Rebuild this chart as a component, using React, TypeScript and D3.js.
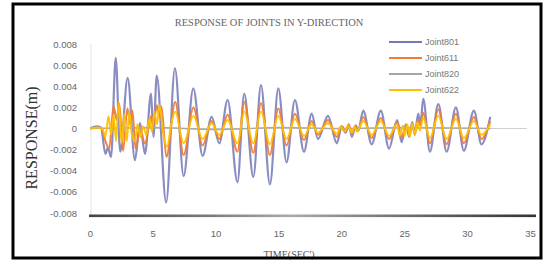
import React, { useEffect, useRef } from 'react';
import * as d3 from 'd3';

// [time (sec), response (m)] — key points
const joint801: [number, number][] = [
  [0, 0], [0.5, 0.0002], [0.85, 0.0001], [1.2, -0.0024], [1.4, -0.0018], [1.65, -0.0027],
  [2.02, 0.0067], [2.38, -0.0022], [2.97, 0.0048], [3.55, -0.003], [3.95, 0.0005],
  [4.35, -0.0024], [4.83, 0.0033], [5.02, -0.0008], [5.28, 0.005], [6.03, -0.007],
  [6.73, 0.0057], [7.42, -0.0045], [8.19, 0.0038], [8.93, -0.0026], [9.65, 0.0011],
  [10.25, -0.0014], [10.92, 0.0027], [11.7, -0.0051], [12.24, 0.0033], [12.96, -0.0046],
  [13.57, 0.0041], [14.28, -0.0053], [14.95, 0.0038], [15.6, -0.0032], [16.27, 0.0027],
  [16.99, -0.0022], [17.6, 0.0014], [18.1, -0.001], [18.9, 0.0012], [19.6, -0.0014],
  [20.0, 0.0002], [20.3, -0.0004], [20.55, 0.0004], [20.8, -0.0008], [21.1, 0.0003],
  [21.3, -0.0002], [21.7, 0.0017], [22.37, -0.0015], [23.1, 0.0017], [23.75, -0.0019],
  [24.4, 0.0008], [24.75, -0.0013], [25.1, 0.0004], [25.35, -0.0008], [25.6, 0.0006],
  [25.8, -0.0006], [26.07, 0.0014], [26.25, 0.0004], [26.47, 0.0028], [27.0, -0.0022],
  [27.67, 0.0023], [28.33, -0.0022], [29.07, 0.002], [29.7, -0.0021], [30.5, 0.0017],
  [31.1, -0.0015], [31.8, 0.0011],
];

const joint611: [number, number][] = [
  [0, 0], [0.5, 0.0001], [0.9, 0], [1.2, -0.0012], [1.5, -0.0019], [1.85, 0.0021],
  [2.1, 0.0008], [2.3, 0.0024], [2.6, -0.0021], [2.95, 0.0019], [3.2, 0.0003],
  [3.35, 0.0017], [3.6, -0.0019], [3.95, -0.0002], [4.35, -0.0014], [4.85, 0.0012],
  [5.0, 0.0003], [5.3, 0.0022], [5.5, 0.0012], [5.65, 0.0021], [6.05, -0.0027],
  [6.75, 0.0025], [7.42, -0.0025], [8.2, 0.002], [8.93, -0.0016], [9.65, 0.0007],
  [10.25, -0.001], [10.92, 0.0013], [11.7, -0.0022], [12.24, 0.0025], [12.96, -0.0023],
  [13.57, 0.0024], [14.28, -0.0025], [14.95, 0.0019], [15.6, -0.0016], [16.27, 0.0014],
  [16.99, -0.0011], [17.6, 0.0007], [18.1, -0.0006], [18.9, 0.0008], [19.6, -0.0008],
  [20.0, 0.0002], [20.3, -0.0003], [20.55, 0.0003], [20.8, -0.0005], [21.1, 0.0002],
  [21.3, -0.0002], [21.7, 0.0011], [22.37, -0.0009], [23.1, 0.001], [23.75, -0.001],
  [24.4, 0.0006], [24.75, -0.0008], [25.1, 0.0003], [25.35, -0.0006], [25.6, 0.0004],
  [25.8, -0.0004], [26.07, 0.0008], [26.25, 0.0003], [26.47, 0.0015], [27.0, -0.0014],
  [27.67, 0.0018], [28.33, -0.0015], [29.07, 0.0014], [29.7, -0.0014], [30.5, 0.0011],
  [31.1, -0.001], [31.8, 0.0007],
];

const joint820: [number, number][] = [
  [0, 0], [5, 0.0001], [10, -0.0001], [15, 0.0001], [20, 0], [25, 0.0001], [31.8, 0],
];

const joint622: [number, number][] = [
  [0, 0], [0.6, 0.0001], [1.0, -0.0001], [1.2, -0.0008], [1.45, 0.0012], [1.65, -0.0006],
  [1.85, 0.0013], [2.05, -0.0012], [2.25, 0.0025], [2.5, -0.0014], [2.7, 0.0014],
  [2.9, -0.0012], [3.1, 0.0016], [3.3, -0.0005], [3.55, -0.0012], [3.75, 0.0004],
  [4.0, -0.0008], [4.2, 0.0002], [4.45, -0.0006], [4.7, 0.0009], [4.9, -0.0003],
  [5.1, 0.0016], [5.3, 0.0004], [5.5, 0.0022], [5.8, -0.0005], [6.1, -0.0017],
  [6.45, 0.0005], [6.75, 0.0016], [7.42, -0.0014], [8.2, 0.0012], [8.93, -0.001],
  [9.65, 0.0005], [10.25, -0.0006], [10.92, 0.0008], [11.7, -0.0014], [12.24, 0.0016],
  [12.96, -0.0014], [13.57, 0.0016], [14.28, -0.0015], [14.95, 0.0012], [15.6, -0.001],
  [16.27, 0.0009], [16.99, -0.0007], [17.6, 0.0004], [18.1, -0.0004], [18.9, 0.0005],
  [19.6, -0.0005], [19.9, 0.0002], [20.2, -0.0003], [20.5, 0.0003], [20.8, -0.0004],
  [21.0, 0.0002], [21.2, -0.0003], [21.7, 0.0007], [22.37, -0.0006], [23.1, 0.0007],
  [23.75, -0.0007], [24.4, 0.0004], [24.6, -0.0007], [24.85, 0.0003], [25.0, -0.0007],
  [25.2, 0.0004], [25.4, -0.0008], [25.6, 0.0005], [25.8, -0.0006], [26.0, 0.0006],
  [26.2, -0.0002], [26.47, 0.001], [27.0, -0.0009], [27.67, 0.0012], [28.33, -0.001],
  [29.07, 0.0009], [29.7, -0.0009], [30.5, 0.0007], [31.1, -0.0006], [31.8, 0.0004],
];

const seriesNames = ['Joint801', 'Joint611', 'Joint820', 'Joint622'];
const seriesColors = ['#7579b6', '#f07d34', '#a5a5a5', '#ffc000'];
const xTicks = [0, 5, 10, 15, 20, 25, 30, 35];
const yTicks = [0.008, 0.006, 0.004, 0.002, 0, -0.002, -0.004, -0.006, -0.008];

const W = 549;
const H = 263;

const App: React.FC = () => {
  const svgRef = useRef<SVGSVGElement>(null);

  useEffect(() => {
    if (!svgRef.current) return;
    const svg = d3.select(svgRef.current);
    svg.selectAll('*').remove();

    const x = d3.scaleLinear().domain([0, 35]).range([90.3, 530.5]);
    const y = d3.scaleLinear().domain([-0.008, 0.008]).range([213, 44]);

    svg.append('rect').attr('width', W).attr('height', H).attr('fill', '#fff');

    // title
    svg.append('text')
      .attr('x', 269).attr('y', 25.5)
      .attr('text-anchor', 'middle')
      .attr('font-family', '"Liberation Serif", serif')
      .attr('font-size', 10.5)
      .attr('fill', '#666')
      .text('RESPONSE OF JOINTS IN Y-DIRECTION');

    // left faint axis
    svg.append('line')
      .attr('x1', 91).attr('x2', 91).attr('y1', 44).attr('y2', 216)
      .attr('stroke', '#e3e3e3').attr('stroke-width', 1);

    // zero line
    svg.append('line')
      .attr('x1', x(0)).attr('x2', x(34.7)).attr('y1', y(0)).attr('y2', y(0))
      .attr('stroke', '#d0d0d0').attr('stroke-width', 1.2);

    // bottom dark bar
    const defs = svg.append('defs');
    const grad = defs.append('linearGradient').attr('id', 'barGrad')
      .attr('x1', '0%').attr('x2', '100%');
    grad.append('stop').attr('offset', '0%').attr('stop-color', '#444');
    grad.append('stop').attr('offset', '25%').attr('stop-color', '#777');
    grad.append('stop').attr('offset', '45%').attr('stop-color', '#aaa');
    grad.append('stop').attr('offset', '75%').attr('stop-color', '#666');
    grad.append('stop').attr('offset', '100%').attr('stop-color', '#333');
    svg.append('rect')
      .attr('x', 89).attr('y', 214.5).attr('width', 447).attr('height', 2.6)
      .attr('fill', 'url(#barGrad)');

    // y tick labels
    svg.append('g')
      .selectAll('text')
      .data(yTicks)
      .join('text')
      .attr('x', 77)
      .attr('y', d => y(d) + 3.5)
      .attr('text-anchor', 'end')
      .attr('font-family', '"Liberation Sans", sans-serif')
      .attr('font-size', 9.5)
      .attr('fill', '#666')
      .text(d => (d === 0 ? '0' : d.toFixed(3)));

    // x tick labels
    svg.append('g')
      .selectAll('text')
      .data(xTicks)
      .join('text')
      .attr('x', d => x(d))
      .attr('y', 236.5)
      .attr('text-anchor', 'middle')
      .attr('font-family', '"Liberation Sans", sans-serif')
      .attr('font-size', 9.5)
      .attr('fill', '#666')
      .text(d => String(d));

    // axis titles
    svg.append('text')
      .attr('x', 289).attr('y', 258)
      .attr('text-anchor', 'middle')
      .attr('font-family', '"Liberation Serif", serif')
      .attr('font-size', 10)
      .attr('fill', '#555')
      .text("TIME(SEC')");

    svg.append('text')
      .attr('transform', 'translate(37,138) rotate(-90)')
      .attr('text-anchor', 'middle')
      .attr('font-family', '"Liberation Serif", serif')
      .attr('font-size', 16)
      .attr('fill', '#333')
      .text('RESPONSE(m)');

    // series
    const line = d3.line<[number, number]>()
      .x(d => x(d[0]))
      .y(d => y(d[1]))
      .curve(d3.curveMonotoneX);

    const allSeries = [joint801, joint611, joint820, joint622];
    const widths = [2.2, 2, 1.4, 1.9];
    svg.append('g')
      .selectAll('path')
      .data(allSeries)
      .join('path')
      .attr('d', d => line(d))
      .attr('fill', 'none')
      .attr('stroke', (_, i) => seriesColors[i])
      .attr('stroke-width', (_, i) => widths[i])
      .attr('stroke-linejoin', 'round')
      .attr('stroke-opacity', (_, i) => (i === 0 ? 0.85 : 0.95));

    // legend
    const legend = svg.append('g')
      .selectAll('g')
      .data(seriesNames)
      .join('g')
      .attr('transform', (_, i) => `translate(389,${42 + i * 16})`);
    legend.append('line')
      .attr('x1', 0).attr('x2', 33).attr('y1', 0).attr('y2', 0)
      .attr('stroke', (_, i) => seriesColors[i])
      .attr('stroke-width', 2);
    legend.append('text')
      .attr('x', 36).attr('y', 3.2)
      .attr('font-family', '"Liberation Sans", sans-serif')
      .attr('font-size', 9)
      .attr('fill', '#777')
      .text(d => d);

    // outer frame
    svg.append('rect')
      .attr('x', 13).attr('y', 4).attr('width', 528).attr('height', 254)
      .attr('fill', 'none').attr('stroke', '#000').attr('stroke-width', 3);
  }, []);

  return (
    <svg
      ref={svgRef}
      width={W}
      height={H}
      style={{ position: 'absolute', left: 0, top: 0, display: 'block' }}
    />
  );
};

export default App;
